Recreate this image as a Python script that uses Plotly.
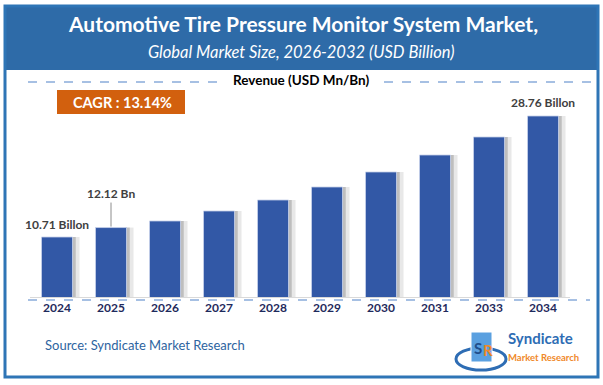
import plotly.graph_objects as go

years = ["2024", "2025", "2026", "2027", "2028", "2029", "2030", "2031", "2033", "2034"]
revenue = [10.71, 12.12, 13.10, 14.59, 16.23, 18.17, 20.41, 22.94, 25.63, 28.76]
label_texts = {"2024": "10.71 Billon", "2025": "12.12 Bn", "2034": "28.76 Billon"}

W, H = 603, 385
L, R, T, B = 30, 33, 90, 88
PW, PH = W - L - R, H - T - B


def X(px):
    return (px - L) / PW


def Y(py):
    return (H - B - py) / PH


BAR_W = 0.574
fig = go.Figure()

# soft shadow to the right of each bar
fig.add_trace(go.Bar(x=years, y=revenue, width=0.16, offset=BAR_W / 2 - 0.03,
                     marker=dict(color="rgba(190,190,190,0.35)", line=dict(width=0)),
                     hoverinfo="skip", showlegend=False))
fig.add_trace(go.Bar(x=years, y=revenue, width=0.09, offset=BAR_W / 2 - 0.03,
                     marker=dict(color="rgba(140,140,140,0.45)", line=dict(width=0)),
                     hoverinfo="skip", showlegend=False))
fig.add_trace(go.Bar(x=years, y=revenue, width=BAR_W, offset=-BAR_W / 2,
                     marker=dict(color="#3258A6", line=dict(color="rgba(200,210,235,0.8)", width=1)),
                     showlegend=False))

FONT = "Lato"
shapes = [
    # header band
    dict(type="rect", xref="paper", yref="paper", x0=X(5), x1=X(598), y0=Y(6), y1=Y(70),
         fillcolor="#2E6BA8", line=dict(width=0), layer="below"),
    # frame
    dict(type="rect", xref="paper", yref="paper", x0=X(5), x1=X(598), y0=Y(6), y1=Y(377),
         fillcolor="rgba(0,0,0,0)", line=dict(color="#2E75B6", width=3)),
    # dashed lines around subtitle
    dict(type="line", xref="paper", yref="paper", x0=X(28), x1=X(222), y0=Y(82), y1=Y(82),
         line=dict(color="#4F81C7", width=1, dash="dash")),
    dict(type="line", xref="paper", yref="paper", x0=X(384), x1=X(593), y0=Y(82), y1=Y(82),
         line=dict(color="#4F81C7", width=1, dash="dash")),
    dict(type="line", xref="paper", yref="paper", x0=X(28), x1=X(590), y0=Y(300), y1=Y(300),
         line=dict(color="#4F81C7", width=1, dash="dash")),
    # CAGR box
    dict(type="rect", xref="paper", yref="paper", x0=X(57), x1=X(185), y0=Y(90), y1=Y(114),
         fillcolor="#D2600E", line=dict(width=0)),
    # logo swoosh
    dict(type="circle", xref="paper", yref="paper", x0=X(456), x1=X(506), y0=Y(348), y1=Y(370),
         fillcolor="rgba(0,0,0,0)", line=dict(color="#2E6DB4", width=3)),
    dict(type="rect", xref="paper", yref="paper", x0=X(471), x1=X(492), y0=Y(332), y1=Y(362),
         fillcolor="#5AA0E0", line=dict(color="white", width=1)),
]

annotations = [
    dict(text="<b>Automotive Tire Pressure Monitor System Market,</b>", x=X(303), y=Y(24),
         font=dict(family=FONT, size=21, color="white")),
    dict(text="<i>Global Market Size, 2026-2032 (USD Billion)</i>", x=X(301), y=Y(52),
         font=dict(family=FONT, size=16.5, color="white")),
    dict(text="<b>Revenue (USD Mn/Bn)</b>", x=X(301), y=Y(80),
         font=dict(family=FONT, size=13.5, color="black")),
    dict(text="<b>CAGR : 13.14%</b>", x=X(122), y=Y(102),
         font=dict(family=FONT, size=14.5, color="white")),
    dict(text="Source: Syndicate Market Research", x=X(43), y=Y(345), xanchor="left",
         font=dict(family=FONT, size=13, color="#2E64A0")),
    dict(text="<b>Syndicate</b>", x=X(506), y=Y(338), xanchor="left",
         font=dict(family=FONT, size=15, color="#2E6DB4")),
    dict(text="<b>Market Research</b>", x=X(506), y=Y(357), xanchor="left",
         font=dict(family=FONT, size=9.5, color="#F0892A")),
    dict(text="<b>S</b>", x=X(478), y=Y(348),
         font=dict(family=FONT, size=15, color="#1F4E8C")),
    dict(text="<b>R</b>", x=X(488), y=Y(350),
         font=dict(family=FONT, size=15, color="#F0892A")),
]
for a in annotations:
    a.setdefault("xanchor", "center")
    a.update(xref="paper", yref="paper", showarrow=False, yanchor="middle")

# data labels (x given as category index)
for i, (yr, v) in enumerate(zip(years, revenue)):
    if yr not in label_texts:
        continue
    if yr == "2025":
        annotations.append(dict(x=i, y=v, xref="x", yref="y", text="<b>" + label_texts[yr] + "</b>",
                                showarrow=True, arrowhead=0, arrowcolor="#8C8C8C", arrowwidth=1,
                                ax=0, ay=-34, standoff=1,
                                font=dict(family=FONT, size=12, color="#404040")))
    else:
        annotations.append(dict(x=i, y=v, xref="x", yref="y", text="<b>" + label_texts[yr] + "</b>",
                                showarrow=False, yshift=13, xanchor="center", yanchor="middle",
                                font=dict(family=FONT, size=12, color="#404040")))

fig.update_layout(
    width=W, height=H, margin=dict(l=L, r=R, t=T, b=B),
    paper_bgcolor="white", plot_bgcolor="white",
    barmode="overlay", shapes=shapes, annotations=annotations,
    xaxis=dict(type="category", showgrid=False, showline=True, linecolor="#D9D9D9", linewidth=1,
               ticks="", tickfont=dict(family=FONT, size=12, color="#1F2A5C"),
               tickprefix="<b>", ticksuffix="</b>", range=[-0.5, 9.5]),
    yaxis=dict(visible=False, range=[1.76, 1.76 + PH / 6.704], showgrid=False, zeroline=False),
)

fig.write_html("out.html", config={"displayModeBar": False},
               post_script="document.body.style.margin='0';")
